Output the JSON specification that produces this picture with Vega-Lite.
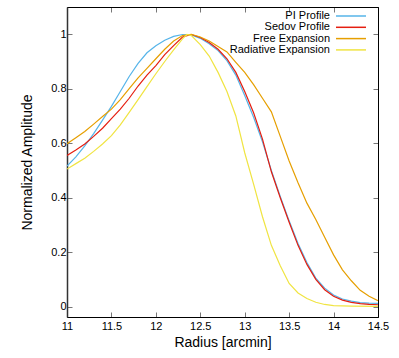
{
  "$schema": "https://vega.github.io/schema/vega-lite/v6.json",
  "width": 311,
  "height": 310,
  "autosize": "none",
  "padding": {"left": 67, "top": 7, "right": 21, "bottom": 41},
  "background": "white",
  "config": {
    "font": "Liberation Sans",
    "view": {"stroke": "black", "strokeWidth": 1},
    "axis": {"grid": false, "domainColor": "black", "tickColor": "#777", "tickSize": -5, "labelFlush": false, "labelColor": "black", "titleColor": "black", "labelFont": "Liberation Sans", "titleFont": "Liberation Sans", "labelFontSize": 11, "titleFontSize": 14, "titleFontWeight": "normal"}
  },
  "data": {"values": [
    {"s":"PI Profile","r":11.0,"v":0.516},{"s":"PI Profile","r":11.1,"v":0.55},{"s":"PI Profile","r":11.2,"v":0.59},{"s":"PI Profile","r":11.3,"v":0.635},{"s":"PI Profile","r":11.4,"v":0.685},{"s":"PI Profile","r":11.5,"v":0.735},{"s":"PI Profile","r":11.6,"v":0.79},{"s":"PI Profile","r":11.7,"v":0.845},{"s":"PI Profile","r":11.8,"v":0.893},{"s":"PI Profile","r":11.9,"v":0.932},{"s":"PI Profile","r":12.0,"v":0.958},{"s":"PI Profile","r":12.1,"v":0.978},{"s":"PI Profile","r":12.2,"v":0.992},{"s":"PI Profile","r":12.3,"v":0.999},{"s":"PI Profile","r":12.4,"v":0.997},{"s":"PI Profile","r":12.5,"v":0.985},{"s":"PI Profile","r":12.6,"v":0.965},{"s":"PI Profile","r":12.7,"v":0.94},{"s":"PI Profile","r":12.8,"v":0.903},{"s":"PI Profile","r":12.9,"v":0.85},{"s":"PI Profile","r":13.0,"v":0.775},{"s":"PI Profile","r":13.1,"v":0.695},{"s":"PI Profile","r":13.2,"v":0.605},{"s":"PI Profile","r":13.3,"v":0.5},{"s":"PI Profile","r":13.4,"v":0.405},{"s":"PI Profile","r":13.5,"v":0.315},{"s":"PI Profile","r":13.6,"v":0.232},{"s":"PI Profile","r":13.7,"v":0.162},{"s":"PI Profile","r":13.8,"v":0.105},{"s":"PI Profile","r":13.9,"v":0.068},{"s":"PI Profile","r":14.0,"v":0.043},{"s":"PI Profile","r":14.1,"v":0.028},{"s":"PI Profile","r":14.2,"v":0.02},{"s":"PI Profile","r":14.3,"v":0.015},{"s":"PI Profile","r":14.4,"v":0.013},{"s":"PI Profile","r":14.5,"v":0.012},
    {"s":"Sedov Profile","r":11.0,"v":0.555},{"s":"Sedov Profile","r":11.1,"v":0.575},{"s":"Sedov Profile","r":11.2,"v":0.597},{"s":"Sedov Profile","r":11.3,"v":0.625},{"s":"Sedov Profile","r":11.4,"v":0.655},{"s":"Sedov Profile","r":11.5,"v":0.69},{"s":"Sedov Profile","r":11.6,"v":0.725},{"s":"Sedov Profile","r":11.7,"v":0.765},{"s":"Sedov Profile","r":11.8,"v":0.81},{"s":"Sedov Profile","r":11.9,"v":0.85},{"s":"Sedov Profile","r":12.0,"v":0.885},{"s":"Sedov Profile","r":12.1,"v":0.925},{"s":"Sedov Profile","r":12.2,"v":0.958},{"s":"Sedov Profile","r":12.3,"v":0.99},{"s":"Sedov Profile","r":12.4,"v":0.999},{"s":"Sedov Profile","r":12.5,"v":0.988},{"s":"Sedov Profile","r":12.6,"v":0.97},{"s":"Sedov Profile","r":12.7,"v":0.945},{"s":"Sedov Profile","r":12.8,"v":0.91},{"s":"Sedov Profile","r":12.9,"v":0.86},{"s":"Sedov Profile","r":13.0,"v":0.79},{"s":"Sedov Profile","r":13.1,"v":0.712},{"s":"Sedov Profile","r":13.2,"v":0.615},{"s":"Sedov Profile","r":13.3,"v":0.495},{"s":"Sedov Profile","r":13.4,"v":0.4},{"s":"Sedov Profile","r":13.5,"v":0.31},{"s":"Sedov Profile","r":13.6,"v":0.225},{"s":"Sedov Profile","r":13.7,"v":0.155},{"s":"Sedov Profile","r":13.8,"v":0.1},{"s":"Sedov Profile","r":13.9,"v":0.062},{"s":"Sedov Profile","r":14.0,"v":0.038},{"s":"Sedov Profile","r":14.1,"v":0.024},{"s":"Sedov Profile","r":14.2,"v":0.016},{"s":"Sedov Profile","r":14.3,"v":0.011},{"s":"Sedov Profile","r":14.4,"v":0.008},{"s":"Sedov Profile","r":14.5,"v":0.007},
    {"s":"Free Expansion","r":11.0,"v":0.598},{"s":"Free Expansion","r":11.1,"v":0.62},{"s":"Free Expansion","r":11.2,"v":0.643},{"s":"Free Expansion","r":11.3,"v":0.67},{"s":"Free Expansion","r":11.4,"v":0.698},{"s":"Free Expansion","r":11.5,"v":0.725},{"s":"Free Expansion","r":11.6,"v":0.76},{"s":"Free Expansion","r":11.7,"v":0.8},{"s":"Free Expansion","r":11.8,"v":0.84},{"s":"Free Expansion","r":11.9,"v":0.875},{"s":"Free Expansion","r":12.0,"v":0.91},{"s":"Free Expansion","r":12.1,"v":0.945},{"s":"Free Expansion","r":12.2,"v":0.975},{"s":"Free Expansion","r":12.3,"v":0.995},{"s":"Free Expansion","r":12.4,"v":1.0},{"s":"Free Expansion","r":12.5,"v":0.99},{"s":"Free Expansion","r":12.6,"v":0.975},{"s":"Free Expansion","r":12.7,"v":0.955},{"s":"Free Expansion","r":12.8,"v":0.935},{"s":"Free Expansion","r":12.9,"v":0.897},{"s":"Free Expansion","r":13.0,"v":0.86},{"s":"Free Expansion","r":13.1,"v":0.815},{"s":"Free Expansion","r":13.2,"v":0.765},{"s":"Free Expansion","r":13.3,"v":0.715},{"s":"Free Expansion","r":13.4,"v":0.625},{"s":"Free Expansion","r":13.5,"v":0.535},{"s":"Free Expansion","r":13.6,"v":0.455},{"s":"Free Expansion","r":13.7,"v":0.38},{"s":"Free Expansion","r":13.8,"v":0.32},{"s":"Free Expansion","r":13.9,"v":0.255},{"s":"Free Expansion","r":14.0,"v":0.19},{"s":"Free Expansion","r":14.1,"v":0.135},{"s":"Free Expansion","r":14.2,"v":0.095},{"s":"Free Expansion","r":14.3,"v":0.06},{"s":"Free Expansion","r":14.4,"v":0.038},{"s":"Free Expansion","r":14.5,"v":0.022},
    {"s":"Radiative Expansion","r":11.0,"v":0.505},{"s":"Radiative Expansion","r":11.1,"v":0.525},{"s":"Radiative Expansion","r":11.2,"v":0.545},{"s":"Radiative Expansion","r":11.3,"v":0.57},{"s":"Radiative Expansion","r":11.4,"v":0.597},{"s":"Radiative Expansion","r":11.5,"v":0.628},{"s":"Radiative Expansion","r":11.6,"v":0.667},{"s":"Radiative Expansion","r":11.7,"v":0.713},{"s":"Radiative Expansion","r":11.8,"v":0.76},{"s":"Radiative Expansion","r":11.9,"v":0.808},{"s":"Radiative Expansion","r":12.0,"v":0.855},{"s":"Radiative Expansion","r":12.1,"v":0.9},{"s":"Radiative Expansion","r":12.2,"v":0.943},{"s":"Radiative Expansion","r":12.3,"v":0.983},{"s":"Radiative Expansion","r":12.35,"v":0.999},{"s":"Radiative Expansion","r":12.4,"v":0.995},{"s":"Radiative Expansion","r":12.5,"v":0.962},{"s":"Radiative Expansion","r":12.6,"v":0.92},{"s":"Radiative Expansion","r":12.7,"v":0.86},{"s":"Radiative Expansion","r":12.8,"v":0.79},{"s":"Radiative Expansion","r":12.9,"v":0.7},{"s":"Radiative Expansion","r":13.0,"v":0.565},{"s":"Radiative Expansion","r":13.1,"v":0.45},{"s":"Radiative Expansion","r":13.2,"v":0.33},{"s":"Radiative Expansion","r":13.3,"v":0.225},{"s":"Radiative Expansion","r":13.4,"v":0.15},{"s":"Radiative Expansion","r":13.5,"v":0.085},{"s":"Radiative Expansion","r":13.6,"v":0.05},{"s":"Radiative Expansion","r":13.7,"v":0.03},{"s":"Radiative Expansion","r":13.8,"v":0.016},{"s":"Radiative Expansion","r":13.9,"v":0.008},{"s":"Radiative Expansion","r":14.0,"v":0.004},{"s":"Radiative Expansion","r":14.2,"v":0.002},{"s":"Radiative Expansion","r":14.5,"v":0.001}
  ]},
  "layer": [
    {
      "mark": {"type": "line", "strokeWidth": 1.2, "clip": true},
      "encoding": {
        "x": {"field": "r", "type": "quantitative", "scale": {"domain": [11, 14.5], "nice": false, "zero": false},
          "axis": {"orient": "bottom", "title": "Radius [arcmin]", "values": [11, 11.5, 12, 12.5, 13, 13.5, 14, 14.5], "format": "~g", "labelPadding": 8, "titlePadding": 4}},
        "y": {"field": "v", "type": "quantitative", "scale": {"domain": [-0.038, 1.1], "nice": false, "zero": false},
          "axis": {"orient": "left", "title": "Normalized Amplitude", "values": [0, 0.2, 0.4, 0.6, 0.8, 1], "format": "~g", "labelPadding": 6, "titlePadding": 16, "domainWidth": 1.5, "domainColor": "#333"}},
        "color": {"field": "s", "type": "nominal",
          "scale": {"domain": ["PI Profile", "Sedov Profile", "Free Expansion", "Radiative Expansion"], "range": ["#56b4e9", "#e51e10", "#e69f00", "#f0e442"]},
          "legend": {"title": null, "orient": "none", "legendX": 278, "legendY": 3, "padding": 0, "symbolType": "M-3,0L3,0", "symbolSize": 100, "symbolStrokeWidth": 1.5, "labelFont": "Liberation Sans", "labelFontSize": 11, "labelColor": "black", "rowPadding": 0.3, "labelAlign": "right", "labelOffset": -27}},
        "order": {"field": "s"}
      }
    },
    {
      "mark": {"type": "rule", "opacity": 0},
      "encoding": {
        "x": {"field": "r", "type": "quantitative", "axis": {"orient": "top", "title": null, "labels": false, "domain": true, "values": [11, 11.5, 12, 12.5, 13, 13.5, 14, 14.5]}},
        "y": {"field": "v", "type": "quantitative", "axis": {"orient": "right", "title": null, "labels": false, "domain": true, "values": [0, 0.2, 0.4, 0.6, 0.8, 1]}}
      }
    }
  ],
  "resolve": {"axis": {"x": "independent", "y": "independent"}}
}
